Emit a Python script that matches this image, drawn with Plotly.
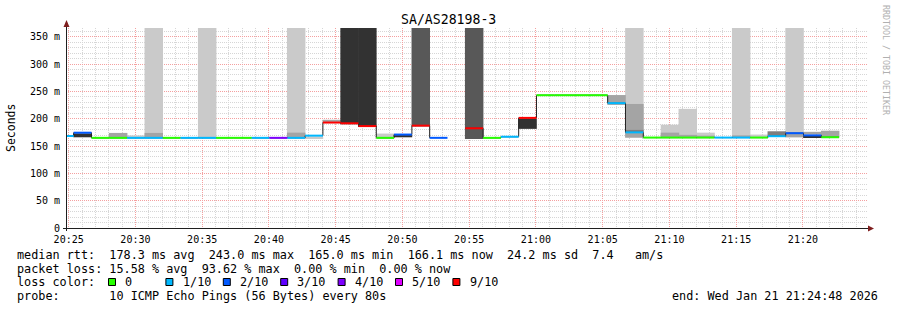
import plotly.graph_objects as go
from datetime import datetime, timedelta

# ---------------- data ----------------
TITLE = "SA/AS28198-3"
FIRST_STEP = datetime(2026, 1, 21, 20, 24, 2, 500000)   # start of first (partial) probe step
STEP_S = 80                                            # probe interval (s)
VIEW_START = datetime(2026, 1, 21, 20, 24, 48)
VIEW_END = datetime(2026, 1, 21, 21, 24, 48)
Y_MAX = 366.0

# median rtt per probe step (ms); None = no data
median_ms = [168.3, 174.4, 165.0, 165.0, 165.0, 165.0, 165.0, 165.0, 165.0, 165.0,
             165.0, 165.0, 165.0, 165.0, 169.0, 193.0, 191.6, 186.5, 165.0, 171.0,
             187.3, 165.0, None, 182.5, 165.0, 167.0, 201.5, 243.0, 243.0, 243.0,
             243.0, 228.5, 175.0, 165.5, 165.5, 165.5, 165.5, 165.5, 165.5, 165.5,
             168.0, 173.5, 169.5, 166.1]
# lost pings per step (out of 10)
loss_tenths = [1, 2, 0, 0, 1, 1, 0, 1, 1, 0,
               0, 1, 4, 1, 1, 9, 9, 9, 0, 2,
               9, 2, None, 9, 0, 1, 9, 0, 0, 0,
               0, 1, 1, 0, 0, 0, 0, 1, 1, 0,
               1, 2, 2, 0]

# smoke bands: step index, low ms, high ms (None = off scale), shade level 1..5
smoke_step = [1, 3, 4, 5, 5, 8, 13, 13, 14, 15, 16, 17, 18, 19, 20, 23, 26, 31, 32, 32, 32,
              34, 34, 35, 35, 36, 36, 38, 38, 39, 40, 41, 41, 42, 42, 43]
smoke_low = [166.0, 166.0, 165.0, 165.0, 165.0, 165.5, 165.0, 165.0, 164.0, 195.0, 190.0,
             185.0, 165.0, 166.0, 186.0, 163.0, 181.4, 225.2, 165.0, 165.5, 176.0,
             165.0, 165.0, 165.0, 165.0, 165.0, 165.0, 165.0, 165.0, 165.0, 167.0,
             166.0, 166.0, 171.5, 166.5, 166.0]
smoke_high = [173.0, 174.0, 169.5, None, 174.0, None, None, 174.5, 166.0, 198.0, None,
              None, 172.8, 170.0, None, None, 200.0, 243.3, None, 227.0, 179.5,
              189.0, 174.5, 218.0, 170.5, 174.5, 169.0, None, 169.5, 171.0, 177.0,
              None, 172.0, 176.0, 169.0, 178.0]
smoke_level = [5, 2, 1, 1, 2, 1, 1, 2, 1, 2, 5, 5, 1, 5, 4, 4, 5, 2, 1, 2, 3,
               1, 2, 1, 2, 1, 2, 1, 2, 1, 3, 1, 2, 2, 5, 2]
smoke_colors = {1: "#cacaca", 2: "#a4a4a4", 3: "#7e7e7e", 4: "#585858", 5: "#323232"}

loss_keys = [0, 1, 2, 3, 4, 5, 9]
loss_labels = ["0", "1/10", "2/10", "3/10", "4/10", "5/10", "9/10"]
loss_colors = ["#26ff00", "#00b8ff", "#0059ff", "#5e00ff", "#7e00ff", "#dd00ff", "#ff0000"]

y_tick_vals = [0, 50, 100, 150, 200, 250, 300, 350]
y_tick_text = ["0", "50 m", "100 m", "150 m", "200 m", "250 m", "300 m", "350 m"]

legend_line1 = "median rtt:  178.3 ms avg  243.0 ms max  165.0 ms min  166.1 ms now  24.2 ms sd  7.4   am/s"
legend_line2 = "packet loss: 15.58 % avg  93.62 % max  0.00 % min  0.00 % now"
legend_line3 = "loss color:"
legend_line4 = "probe:       10 ICMP Echo Pings (56 Bytes) every 80s"
end_text = "end: Wed Jan 21 21:24:48 2026"
side_text = "RRDTOOL / TOBI OETIKER"

# ---------------- geometry ----------------
W, H = 897, 310
L, T, PW, PH = 66, 28, 801, 200
MONO = "DejaVu Sans Mono"


def pxx(px):
    return (px - L) / PW


def pxy(py):
    return (T + PH - py) / PH


def nb(s):
    return s.replace(" ", "\u00a0")


step_dt = timedelta(seconds=STEP_S)
starts = [FIRST_STEP + i * step_dt for i in range(len(median_ms))]
ends = [s + step_dt for s in starts]
centers = [s + step_dt / 2 for s in starts]

fig = go.Figure()

# smoke
for lvl in [1, 2, 3, 4, 5]:
    xs, ys, bs = [], [], []
    for st, lo, hi, lv in zip(smoke_step, smoke_low, smoke_high, smoke_level):
        if lv != lvl:
            continue
        top = Y_MAX + 20 if hi is None else hi
        xs.append(centers[st])
        bs.append(lo)
        ys.append(top - lo)
    fig.add_trace(go.Bar(x=xs, y=ys, base=bs, width=STEP_S * 1000 + 3000,
                         marker=dict(color=smoke_colors[lvl], line=dict(width=0)),
                         hoverinfo="skip"))

# black median line
fig.add_trace(go.Scatter(x=starts + [ends[-1]], y=median_ms + [median_ms[-1]],
                         mode="lines", line=dict(color="#202020", width=1, shape="hv"),
                         connectgaps=False, hoverinfo="skip"))


def loss_color(v):
    for k, c in zip(loss_keys, loss_colors):
        if v <= k:
            return c
    return loss_colors[-1]


# colored median bands
for k, c in zip(loss_keys, loss_colors):
    xs, ys = [], []
    for s, e, m, lo in zip(starts, ends, median_ms, loss_tenths):
        if m is None or lo is None or loss_color(lo) != c:
            continue
        xs += [s, e, None]
        ys += [m, m, None]
    if xs:
        fig.add_trace(go.Scatter(x=xs, y=ys, mode="lines",
                                 line=dict(color=c, width=2), hoverinfo="skip"))

grid_minor = "#d6d6d6"
grid_major = "#f4a0a0"

fig.update_layout(
    width=W, height=H, margin=dict(l=L, r=W - L - PW, t=T, b=H - T - PH, pad=0),
    paper_bgcolor="white", plot_bgcolor="white", showlegend=False, barmode="overlay",
    font=dict(family=MONO, size=10, color="#000000"),
    xaxis=dict(type="date", range=[VIEW_START, VIEW_END], tickformat="%H:%M",
               tick0=datetime(2026, 1, 21, 20, 25), dtick=300000,
               showgrid=True, gridcolor=grid_major, griddash="1px,1px", gridwidth=1,
               minor=dict(dtick=60000, tick0=datetime(2026, 1, 21, 20, 25), showgrid=True,
                          gridcolor=grid_minor, griddash="1px,1px", gridwidth=1),
               showline=False, zeroline=False, ticks="", ticklen=0,
               ticklabelstandoff=4,
               tickfont=dict(family=MONO, size=10)),
    yaxis=dict(range=[0, Y_MAX], tickvals=y_tick_vals, ticktext=y_tick_text,
               showgrid=True, gridcolor=grid_major, griddash="1px,1px", gridwidth=1,
               minor=dict(dtick=10, showgrid=True, gridcolor=grid_minor,
                          griddash="1px,1px", gridwidth=1),
               showline=False, zeroline=False, ticks="outside", ticklen=3,
               tickcolor="rgba(0,0,0,0)", tickfont=dict(family=MONO, size=10)),
)

shapes = []
# axes
shapes.append(dict(type="line", xref="paper", yref="paper", x0=pxx(63), x1=pxx(868),
                   y0=pxy(228.5), y1=pxy(228.5), line=dict(color="#1f1f1f", width=1)))
shapes.append(dict(type="line", xref="paper", yref="paper", x0=pxx(66.5), x1=pxx(66.5),
                   y0=pxy(231), y1=pxy(24), line=dict(color="#1f1f1f", width=1)))
shapes.append(dict(type="path", xref="paper", yref="paper",
                   path=f"M {pxx(868)} {pxy(225.5)} L {pxx(874)} {pxy(228.5)} L {pxx(868)} {pxy(231.5)} Z",
                   fillcolor="#7f1f1f", line=dict(width=0)))
shapes.append(dict(type="path", xref="paper", yref="paper",
                   path=f"M {pxx(63.5)} {pxy(27)} L {pxx(66.5)} {pxy(20)} L {pxx(69.5)} {pxy(27)} Z",
                   fillcolor="#7f1f1f", line=dict(width=0)))

annotations = []


def add_text(txt, px, py, size=11.8, xanchor="left", color="#000000", angle=0):
    annotations.append(dict(text=nb(txt), x=pxx(px), y=pxy(py), xref="paper", yref="paper",
                            xanchor=xanchor, yanchor="middle", showarrow=False,
                            textangle=angle, font=dict(family=MONO, size=size, color=color)))


add_text(TITLE, 448, 20, size=13.2, xanchor="center")
add_text("Seconds", 11, 128, size=11.5, xanchor="center", angle=-90)
add_text(side_text, 886, 60, size=8.3, xanchor="center", color="#b0b0b0", angle=90)

add_text(legend_line1, 14.5, 255)
add_text(legend_line2, 14.5, 268.5)
add_text(legend_line3, 14.5, 282)
add_text(legend_line4, 14.5, 295.8)
add_text(end_text, 880, 295.8, xanchor="right")

for i, (lab, col) in enumerate(zip(loss_labels, loss_colors)):
    bx = 108.5 + 57.4 * i
    shapes.append(dict(type="rect", xref="paper", yref="paper",
                       x0=pxx(bx), x1=pxx(bx + 7), y0=pxy(285.5), y1=pxy(278.5),
                       fillcolor=col, line=dict(color="#000000", width=1)))
    add_text(lab, bx + 14.6, 282)

fig.update_layout(shapes=shapes, annotations=annotations)
fig.write_html("out.html")
